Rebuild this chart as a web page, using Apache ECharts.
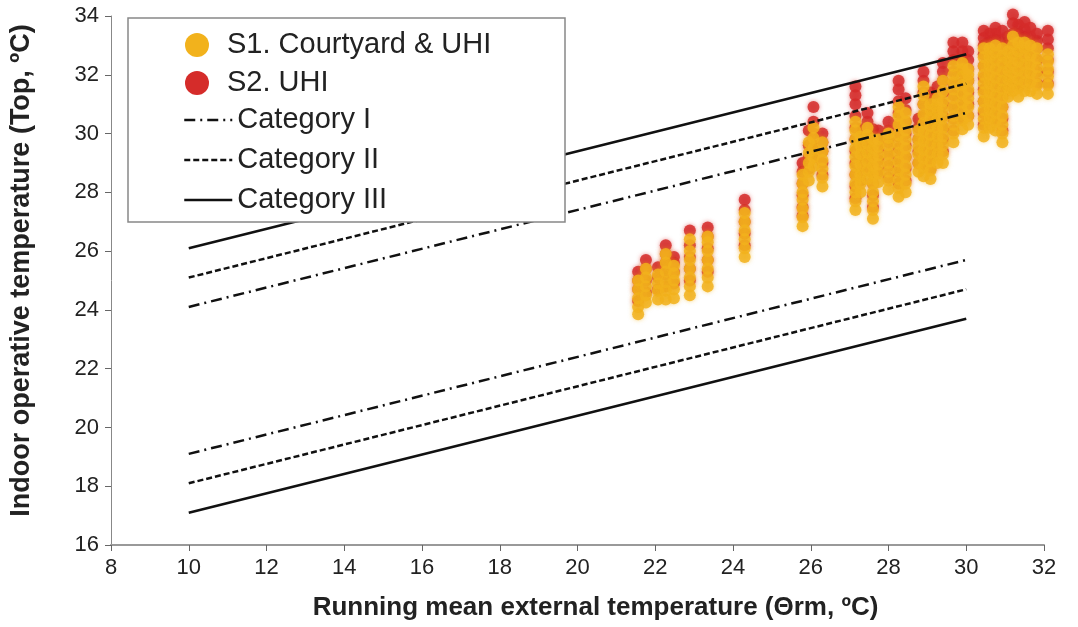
<!DOCTYPE html>
<html>
<head>
<meta charset="utf-8">
<script src="https://cdn.jsdelivr.net/npm/echarts@6/dist/echarts.min.js"></script>
<style>
  html, body { margin: 0; padding: 0; background: #fff; }
  #chart { width: 1078px; height: 627px; }
</style>
</head>
<body>
<div id="chart"></div>
<script>
// Axis ticks
const xTicks = [8, 10, 12, 14, 16, 18, 20, 22, 24, 26, 28, 30, 32];
const yTicks = [16, 18, 20, 22, 24, 26, 28, 30, 32, 34];

// Daily columns: running mean external temperature, hourly indoor operative temperatures
const s1Columns = [
  [21.56, [23.85, 24.1, 24.4, 24.7, 25.0]],
  [21.76, [24.25, 24.5, 24.8, 25.1, 25.4]],
  [22.07, [24.35, 24.65, 24.9, 25.2]],
  [22.27, [24.35, 24.65, 24.95, 25.3, 25.6, 25.9]],
  [22.48, [24.4, 24.7, 25.0, 25.25, 25.5]],
  [22.89, [24.5, 24.8, 25.1, 25.4, 25.7, 26.0, 26.4]],
  [23.35, [24.8, 25.1, 25.4, 25.7, 26.0, 26.3, 26.5]],
  [24.3, [25.8, 26.1, 26.4, 26.7, 27.0, 27.3]],
  [25.79, [26.85, 27.15, 27.45, 27.75, 28.0, 28.3, 28.6]],
  [25.95, [28.4, 28.7, 29.0, 29.35, 29.7]],
  [26.07, [28.9, 29.2, 29.5, 29.85, 30.2]],
  [26.3, [28.2, 28.5, 28.8, 29.1, 29.4, 29.7]],
  [27.15, [27.4, 27.7, 28.0, 28.3, 28.6, 28.9, 29.2, 29.5, 29.8, 30.1, 30.4]],
  [27.28, [28.0, 28.3, 28.6, 28.95, 29.3, 29.6, 29.9]],
  [27.46, [28.45, 28.75, 29.05, 29.35, 29.65, 29.95, 30.2]],
  [27.6, [27.1, 27.4, 27.7, 28.0, 28.3, 28.6, 28.9, 29.2, 29.5, 29.8]],
  [27.74, [28.35, 28.65, 28.95, 29.25, 29.55, 29.8]],
  [28.0, [28.1, 28.4, 28.7, 29.0, 29.3, 29.6, 29.85, 30.0]],
  [28.26, [27.85, 28.15, 28.45, 28.75, 29.05, 29.35, 29.65, 29.95, 30.3, 30.6, 30.9]],
  [28.44, [28.0, 28.3, 28.6, 28.9, 29.2, 29.5, 29.8, 30.1, 30.4, 30.7]],
  [28.77, [28.7, 29.0, 29.3, 29.55, 29.8, 30.1]],
  [28.9, [28.55, 28.85, 29.15, 29.45, 29.75, 30.05, 30.35, 30.65, 31.0, 31.3, 31.6]],
  [29.08, [28.45, 28.75, 29.05, 29.35, 29.65, 29.95, 30.25, 30.55, 30.8, 31.0]],
  [29.26, [29.0, 29.3, 29.6, 29.9, 30.2, 30.5, 30.8, 31.0, 31.2]],
  [29.4, [29.0, 29.3, 29.6, 29.9, 30.2, 30.5, 30.8, 31.1, 31.45, 31.8]],
  [29.67, [29.7, 30.0, 30.3, 30.6, 30.9, 31.2, 31.5, 31.75, 32.0, 32.3]],
  [29.9, [30.15, 30.45, 30.75, 31.05, 31.35, 31.65, 31.95, 32.2, 32.4]],
  [30.05, [30.3, 30.6, 30.9, 31.2, 31.5, 31.8, 32.0, 32.2]],
  [30.45, [29.9, 30.2, 30.5, 30.8, 31.1, 31.4, 31.7, 32.0, 32.3, 32.6, 32.9]],
  [30.6, [30.2, 30.5, 30.8, 31.1, 31.4, 31.7, 32.0, 32.3, 32.6, 32.9]],
  [30.75, [30.1, 30.4, 30.7, 31.0, 31.3, 31.6, 31.9, 32.2, 32.5, 32.75, 33.0]],
  [30.93, [29.7, 30.0, 30.3, 30.6, 30.9, 31.2, 31.5, 31.8, 32.1, 32.4, 32.65, 32.9]],
  [31.08, [31.25, 31.55, 31.85, 32.15, 32.5, 32.8]],
  [31.2, [31.45, 31.75, 32.05, 32.35, 32.65, 33.0, 33.3]],
  [31.34, [31.25, 31.55, 31.85, 32.15, 32.45, 32.8, 33.1]],
  [31.5, [31.45, 31.75, 32.05, 32.35, 32.65, 32.9, 33.1]],
  [31.65, [31.45, 31.75, 32.05, 32.35, 32.65, 33.0]],
  [31.82, [31.35, 31.65, 31.95, 32.25, 32.55, 32.9]],
  [32.1, [31.35, 31.65, 31.95, 32.2, 32.45, 32.7]]
];

const s2Columns = [
  [21.56, [24.3, 24.7, 25.0, 25.3]],
  [21.76, [24.6, 25.0, 25.4, 25.7]],
  [22.07, [24.7, 25.1, 25.45]],
  [22.27, [24.8, 25.2, 25.6, 25.9, 26.2]],
  [22.48, [24.9, 25.3, 25.6, 25.8]],
  [22.89, [25.0, 25.4, 25.8, 26.2, 26.7]],
  [23.35, [25.3, 25.7, 26.1, 26.5, 26.8]],
  [24.3, [26.2, 26.6, 27.0, 27.4, 27.75]],
  [25.79, [27.2, 27.5, 27.9, 28.3, 28.7, 29.0]],
  [25.95, [28.8, 29.2, 29.6, 30.1]],
  [26.07, [29.2, 29.6, 30.0, 30.4, 30.9]],
  [26.3, [28.6, 29.0, 29.4, 29.7, 30.0]],
  [27.15, [27.8, 28.2, 28.6, 29.0, 29.4, 29.8, 30.2, 30.6, 31.0, 31.3, 31.6]],
  [27.28, [28.4, 28.8, 29.2, 29.6, 30.15]],
  [27.46, [28.8, 29.2, 29.6, 30.0, 30.4, 30.7]],
  [27.6, [27.5, 27.9, 28.3, 28.7, 29.1, 29.5, 29.85, 30.15]],
  [27.74, [28.7, 29.1, 29.5, 29.8, 30.1]],
  [28.0, [28.5, 28.9, 29.3, 29.7, 30.1, 30.4]],
  [28.26, [28.3, 28.7, 29.1, 29.5, 29.9, 30.3, 30.7, 31.1, 31.5, 31.8]],
  [28.44, [28.4, 28.8, 29.2, 29.6, 30.0, 30.4, 30.8, 31.2]],
  [28.77, [29.0, 29.4, 29.8, 30.2, 30.5]],
  [28.9, [29.0, 29.4, 29.8, 30.2, 30.6, 31.0, 31.4, 31.8, 32.1]],
  [29.08, [28.8, 29.2, 29.6, 30.0, 30.4, 30.8, 31.1, 31.4]],
  [29.26, [29.4, 29.8, 30.2, 30.6, 31.0, 31.3, 31.6]],
  [29.4, [29.4, 29.8, 30.2, 30.6, 31.0, 31.4, 31.8, 32.1, 32.4]],
  [29.67, [30.1, 30.5, 30.9, 31.3, 31.7, 32.1, 32.5, 32.8, 33.1]],
  [29.9, [30.5, 30.9, 31.3, 31.7, 32.1, 32.5, 32.8, 33.1]],
  [30.05, [30.6, 31.0, 31.4, 31.8, 32.2, 32.5, 32.8]],
  [30.45, [30.3, 30.7, 31.1, 31.5, 31.9, 32.3, 32.7, 33.0, 33.25, 33.5]],
  [30.6, [30.5, 30.9, 31.3, 31.7, 32.1, 32.5, 32.9, 33.15, 33.4]],
  [30.75, [30.5, 30.9, 31.3, 31.7, 32.1, 32.5, 32.9, 33.2, 33.4, 33.6]],
  [30.93, [30.1, 30.5, 30.9, 31.3, 31.7, 32.1, 32.5, 32.9, 33.2, 33.5]],
  [31.08, [31.5, 31.9, 32.3, 32.7, 33.0, 33.3]],
  [31.2, [31.8, 32.2, 32.6, 33.0, 33.4, 33.75, 34.05]],
  [31.34, [31.6, 32.0, 32.4, 32.8, 33.1, 33.4, 33.7]],
  [31.5, [31.8, 32.2, 32.6, 33.0, 33.3, 33.55, 33.8]],
  [31.65, [31.8, 32.2, 32.6, 33.0, 33.3, 33.6]],
  [31.82, [31.7, 32.1, 32.5, 32.9, 33.15, 33.4]],
  [32.1, [31.7, 32.1, 32.5, 32.9, 33.2, 33.5]]
];

// Comfort category limits (upper and lower), endpoints at 10 and 30 ºC
const catIUpper = [[10, 24.1], [30, 30.7]];
const catIIUpper = [[10, 25.1], [30, 31.7]];
const catIIIUpper = [[10, 26.1], [30, 32.7]];
const catILower = [[10, 19.1], [30, 25.7]];
const catIILower = [[10, 18.1], [30, 24.7]];
const catIIILower = [[10, 17.1], [30, 23.7]];

function toPoints(columns) {
  const pts = [];
  columns.forEach(([x, ys]) => ys.forEach(y => pts.push([x, y])));
  return pts;
}

const FONT = '"Liberation Sans", Arial, sans-serif';
const YELLOW = '#F2B21C';
const RED = '#D52C2A';
const INK = '#111';
const DASH_DOT = [11, 5, 2, 5];
const DASHED = [6, 3];

function boundLine(name, data, type) {
  return {
    name, type: 'line', data, symbol: 'none', showSymbol: false, z: 3,
    itemStyle: { color: INK },
    lineStyle: { color: INK, width: 2.5, type },
    silent: true
  };
}

const chart = echarts.init(document.getElementById('chart'));
chart.setOption({
  animation: false,
  backgroundColor: '#fff',
  grid: { left: 109, right: 34, top: 16, bottom: 82 },
  xAxis: {
    type: 'value', min: xTicks[0], max: xTicks[xTicks.length - 1], interval: 2,
    name: 'Running mean external temperature (\u0398rm, \u00BAC)',
    nameLocation: 'middle', nameGap: 50,
    nameTextStyle: { fontFamily: FONT, fontWeight: 'bold', fontSize: 26, color: '#222', padding: [0, 0, 0, 36] },
    axisLine: { lineStyle: { color: '#999', width: 2 } },
    axisTick: { show: true, length: 6, lineStyle: { color: '#666' } },
    axisLabel: { fontFamily: FONT, fontSize: 22, color: '#222', margin: 12 },
    splitLine: { show: false }
  },
  yAxis: {
    type: 'value', min: yTicks[0], max: yTicks[yTicks.length - 1], interval: 2,
    name: 'Indoor operative temperature (Top, \u00BAC)',
    nameLocation: 'middle', nameGap: 76,
    nameTextStyle: { fontFamily: FONT, fontWeight: 'bold', fontSize: 27, color: '#222', padding: [0, 0, 0, 20] },
    axisLine: { show: true, lineStyle: { color: '#888', width: 1 } },
    axisTick: { show: true, length: 6, lineStyle: { color: '#666' } },
    axisLabel: { fontFamily: FONT, fontSize: 22, color: '#222', margin: 12 },
    splitLine: { show: false }
  },
  graphic: [{
    type: 'rect', z: 50, silent: true,
    shape: { x: 128, y: 18, width: 437, height: 204 },
    style: { fill: '#fff', stroke: '#888', lineWidth: 1.5 }
  }],
  legend: [{
    data: ['S1. Courtyard & UHI', 'S2. UHI'],
    orient: 'vertical', left: 180, top: 25, z: 60,
    itemWidth: 34, itemHeight: 24, itemGap: 8, icon: 'circle',
    itemStyle: { opacity: 1 },
    textStyle: { fontFamily: FONT, fontSize: 29, color: '#222', lineHeight: 30, padding: [0, 0, 0, 8] }
  }, {
    data: ['Category I', 'Category II', 'Category III'],
    orient: 'vertical', left: 178, top: 100, z: 60,
    itemWidth: 48, itemHeight: 24, itemGap: 10,
    itemStyle: { opacity: 0 },
    lineStyle: { width: 2.5 },
    textStyle: { fontFamily: FONT, fontSize: 29, color: '#222', lineHeight: 30, padding: [0, 0, 0, 0] }
  }],
  series: [
    {
      name: 'S2. UHI', type: 'scatter', data: toPoints(s2Columns), z: 2,
      symbolSize: 12, clip: false,
      itemStyle: { color: RED, opacity: 0.85, shadowBlur: 4, shadowColor: 'rgba(213,44,42,0.6)' }
    },
    {
      name: 'S1. Courtyard & UHI', type: 'scatter', data: toPoints(s1Columns), z: 2,
      symbolSize: 12, clip: false,
      itemStyle: { color: YELLOW, opacity: 0.85, shadowBlur: 4, shadowColor: 'rgba(242,178,28,0.6)' }
    },
    boundLine('Category I', catIUpper, DASH_DOT),
    boundLine('Category II', catIIUpper, DASHED),
    boundLine('Category III', catIIIUpper, 'solid'),
    boundLine('Category I', catILower, DASH_DOT),
    boundLine('Category II', catIILower, DASHED),
    boundLine('Category III', catIIILower, 'solid')
  ]
});
</script>
</body>
</html>
